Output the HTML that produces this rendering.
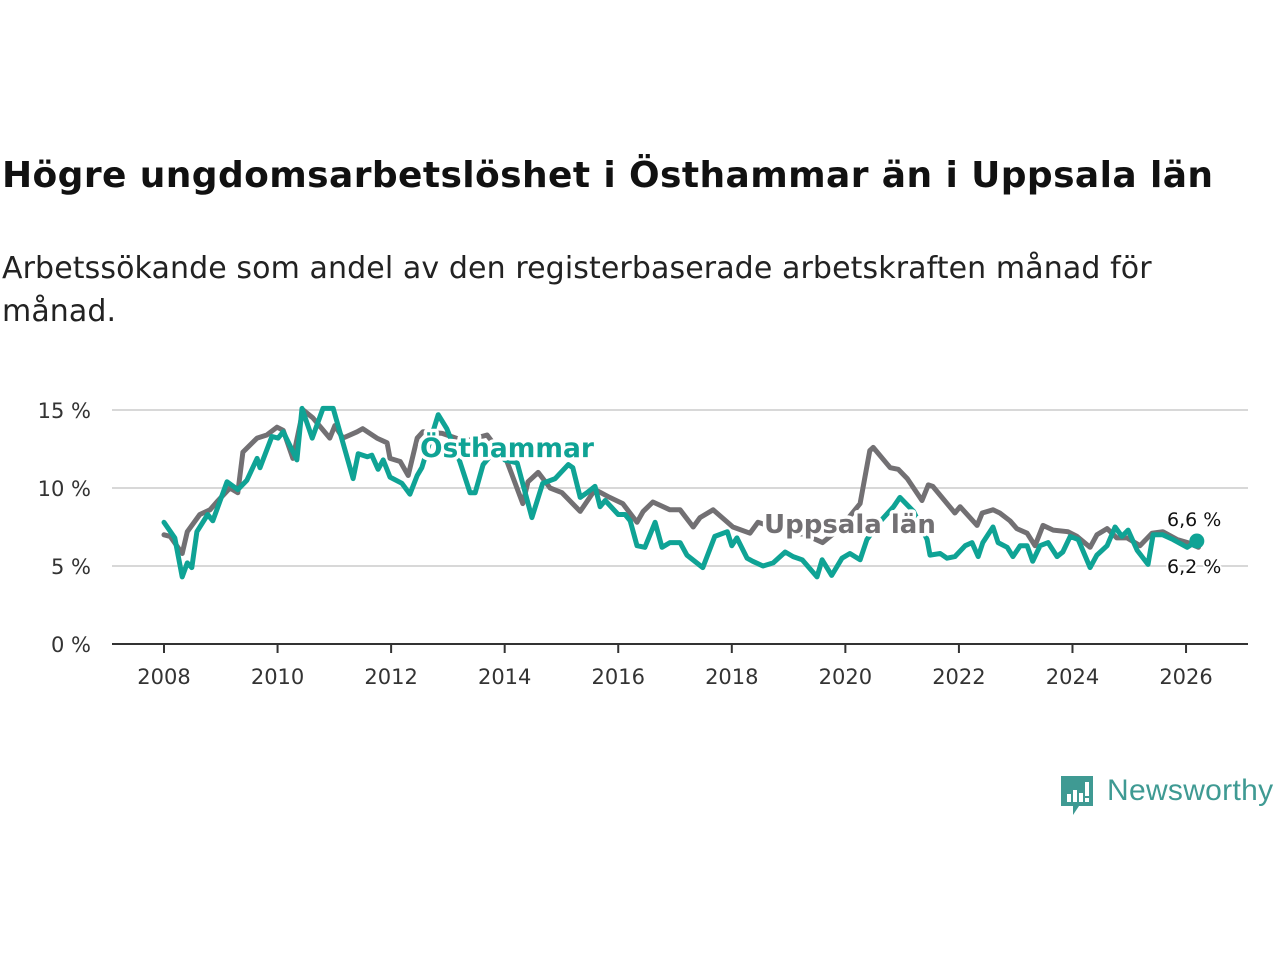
<!DOCTYPE html>
<html><head><meta charset="utf-8">
<style>
html,body{margin:0;padding:0;background:#fff;}
body{width:1280px;height:960px;position:relative;overflow:hidden;font-family:"DejaVu Sans",sans-serif;}
#title{position:absolute;left:2px;top:155px;font-size:36px;font-weight:bold;color:#111;margin:0;letter-spacing:0.4px;white-space:nowrap;}
#sub{position:absolute;left:2px;top:247px;font-size:30px;color:#222;line-height:43px;width:1270px;letter-spacing:0.1px;}
svg{position:absolute;left:0;top:0;}
</style></head><body>
<h1 id="title">Högre ungdomsarbetslöshet i Östhammar än i Uppsala län</h1>
<div id="sub">Arbetssökande som andel av den registerbaserade arbetskraften månad för<br>månad.</div>
<svg id="chart" width="1280" height="960"></svg>
<div style="position:absolute;left:1059px;top:774px;width:220px;height:46px;">
<svg width="38" height="44" style="position:absolute;left:0;top:0">
<path d="M2 2h32v30h-14l-6 9v-9h-12z" fill="#3f9a93"/>
<rect x="8" y="20" width="4" height="8" fill="#fff"/><rect x="14" y="16" width="4" height="12" fill="#fff"/><rect x="20" y="19" width="4" height="9" fill="#fff"/><rect x="26" y="8" width="4" height="14" fill="#fff"/><rect x="26" y="24" width="4" height="4" fill="#fff"/>
</svg>
<span style="position:absolute;left:48px;top:0px;font-size:30px;color:#3f9a93;font-family:'Liberation Sans',sans-serif;letter-spacing:0.3px;">Newsworthy</span>
</div>
<script>
const yTicks=[0,5,10,15];
const yTickLabels=["0 %","5 %","10 %","15 %"];
const xTicks=[2008,2010,2012,2014,2016,2018,2020,2022,2024,2026];
const uppsalaDates=[2008.0,2008.11,2008.32,2008.41,2008.63,2008.81,2008.93,2009.16,2009.30,2009.39,2009.64,2009.81,2009.99,2010.10,2010.27,2010.45,2010.62,2010.92,2011.01,2011.15,2011.40,2011.50,2011.75,2011.93,2011.98,2012.16,2012.30,2012.46,2012.56,2012.9,2013.3,2013.69,2014.04,2014.32,2014.41,2014.59,2014.80,2015.01,2015.33,2015.59,2015.85,2016.08,2016.33,2016.44,2016.61,2016.91,2017.09,2017.32,2017.44,2017.67,2018.02,2018.32,2018.46,2018.9,2019.3,2019.6,2019.9,2020.26,2020.43,2020.49,2020.79,2020.93,2021.09,2021.35,2021.46,2021.54,2021.93,2022.02,2022.32,2022.41,2022.60,2022.72,2022.90,2023.02,2023.20,2023.34,2023.48,2023.66,2023.92,2024.08,2024.31,2024.43,2024.61,2024.78,2024.96,2025.19,2025.40,2025.59,2025.84,2026.03,2026.22];
const uppsalaValues=[7.0,6.9,5.8,7.2,8.3,8.6,9.1,10.0,9.7,12.3,13.2,13.4,13.9,13.7,11.9,15.0,14.5,13.2,14.0,13.2,13.6,13.8,13.2,12.9,11.9,11.7,10.8,13.2,13.6,13.5,13.0,13.4,11.7,9.0,10.4,11.0,10.0,9.7,8.5,9.9,9.4,9.0,7.8,8.5,9.1,8.6,8.6,7.5,8.1,8.6,7.5,7.1,7.8,7.3,7.0,6.5,7.4,9.0,12.4,12.6,11.3,11.2,10.6,9.2,10.2,10.1,8.4,8.8,7.6,8.4,8.6,8.4,7.9,7.4,7.1,6.3,7.6,7.3,7.2,6.9,6.2,7.0,7.4,6.8,6.8,6.3,7.1,7.2,6.7,6.5,6.2];
const osthammarDates=[2008.0,2008.19,2008.32,2008.41,2008.49,2008.58,2008.77,2008.86,2009.11,2009.30,2009.46,2009.64,2009.69,2009.90,2010.01,2010.10,2010.34,2010.43,2010.61,2010.80,2010.98,2011.33,2011.42,2011.58,2011.66,2011.77,2011.86,2011.98,2012.19,2012.33,2012.46,2012.54,2012.83,2012.98,2013.21,2013.39,2013.48,2013.62,2013.85,2014.0,2014.22,2014.48,2014.67,2014.89,2015.12,2015.20,2015.33,2015.45,2015.59,2015.68,2015.77,2016.00,2016.12,2016.21,2016.33,2016.47,2016.65,2016.77,2016.91,2017.09,2017.21,2017.49,2017.70,2017.92,2018.00,2018.09,2018.27,2018.37,2018.55,2018.73,2018.94,2019.08,2019.24,2019.50,2019.59,2019.76,2019.94,2020.08,2020.26,2020.38,2020.6,2020.85,2020.96,2021.2,2021.44,2021.49,2021.67,2021.79,2021.93,2022.11,2022.23,2022.34,2022.42,2022.60,2022.69,2022.85,2022.95,2023.08,2023.20,2023.30,2023.43,2023.57,2023.73,2023.83,2023.96,2024.10,2024.31,2024.43,2024.61,2024.75,2024.87,2024.98,2025.14,2025.33,2025.42,2025.59,2025.77,2026.02,2026.19];
const osthammarValues=[7.8,6.8,4.3,5.2,4.9,7.2,8.3,7.9,10.4,9.9,10.5,11.9,11.3,13.3,13.2,13.6,11.8,15.1,13.2,15.1,15.1,10.6,12.2,12.0,12.1,11.2,11.8,10.7,10.3,9.6,10.8,11.3,14.7,13.8,11.7,9.7,9.7,11.5,12.5,11.8,11.6,8.1,10.3,10.6,11.5,11.3,9.4,9.7,10.1,8.8,9.2,8.3,8.3,7.9,6.3,6.2,7.8,6.2,6.5,6.5,5.7,4.9,6.9,7.2,6.3,6.8,5.5,5.3,5.0,5.2,5.9,5.6,5.4,4.3,5.4,4.4,5.5,5.8,5.4,6.7,7.8,8.8,9.4,8.5,6.7,5.7,5.8,5.5,5.6,6.3,6.5,5.6,6.5,7.5,6.5,6.2,5.6,6.3,6.3,5.3,6.3,6.5,5.6,5.9,6.9,6.7,4.9,5.7,6.3,7.5,6.9,7.3,6.0,5.1,7.0,7.0,6.7,6.2,6.6];
const lastLabels=["6,6 %","6,2 %"];

const NS="http://www.w3.org/2000/svg";
const svg=document.getElementById('chart');
const FF='DejaVu Sans, sans-serif';
const X=t=>164+(t-2008)*56.78;
const Y=v=>644-v*15.6;
function mk(tag,attrs,parent){const e=document.createElementNS(NS,tag);for(const k in attrs)e.setAttribute(k,attrs[k]);(parent||svg).appendChild(e);return e;}

yTicks.forEach((v,i)=>{
  if(v>0){const g=mk('line',{x1:112,x2:1248,y1:Y(v),y2:Y(v),stroke:'#d8d8d8','stroke-width':2});
  
  }
  const t=mk('text',{x:91,y:Y(v)+8,'text-anchor':'end','font-size':21,fill:'#333','font-family':FF});
  t.textContent=yTickLabels[i];
  
  
});
const ax=mk('line',{x1:112,x2:1248,y1:Y(0),y2:Y(0),stroke:'#333','stroke-width':2});


xTicks.forEach(yr=>{
  const tk=mk('line',{x1:X(yr),x2:X(yr),y1:645,y2:653,stroke:'#333','stroke-width':2});
  
  
  const t=mk('text',{x:X(yr),y:684,'text-anchor':'middle','font-size':21,fill:'#333','font-family':FF});
  t.textContent=yr;
  
  
});
function line(d,v,color,name){
  const p=d.map((t,i)=>(i?'L':'M')+X(t).toFixed(1)+' '+Y(v[i]).toFixed(1)).join('');
  const el=mk('path',{d:p,fill:'none',stroke:color,'stroke-width':5,'stroke-linejoin':'round','stroke-linecap':'round'});
  
  
}
line(uppsalaDates,uppsalaValues,'#727073','uppsala-line');
line(osthammarDates,osthammarValues,'#0fa395','osthammar-line');
function lbl(txt,x,y,color,name,size,bold){
  const t=mk('text',{x:x,y:y,'font-size':size,fill:color,'font-weight':bold?'bold':'normal',stroke:'#fff','stroke-width':bold?7:4,'paint-order':'stroke','stroke-linejoin':'round','font-family':FF});
  t.textContent=txt;
  
  
}
lbl('Östhammar',420,457,'#0fa395','osthammar-label',26.5,true);
lbl('Uppsala län',764,533,'#727073','uppsala-label',26,true);
const lx=X(osthammarDates[osthammarDates.length-1]);
const dot=mk('circle',{cx:lx,cy:Y(osthammarValues[osthammarValues.length-1]),r:7.5,fill:'#0fa395'});


lbl(lastLabels[0],1167,526,'#111','osthammar-end-value',19,false);
lbl(lastLabels[1],1167,573,'#111','uppsala-end-value',19,false);
</script>
</body></html>
